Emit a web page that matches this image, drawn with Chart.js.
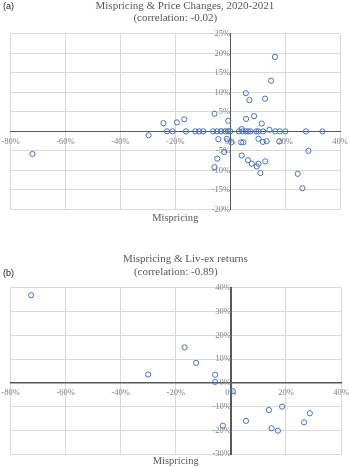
<!DOCTYPE html>
<html>
<head>
<meta charset="utf-8">
<script src="https://cdn.jsdelivr.net/npm/chart.js@4.4.1/dist/chart.umd.min.js"></script>
<style>
    body { margin: 0; background: #ffffff; }
    #wrap { position: relative; width: 350px; height: 468px; overflow: hidden; }
    canvas { position: absolute; left: 0; }
    .panel { position: absolute; left: 3px; font-family: 'Liberation Sans', Arial, sans-serif; font-size: 9px; color: #222; }
</style>
</head>
<body>
<div id="wrap">
    <canvas id="chartA" width="350" height="230" style="top:0px"></canvas>
    <canvas id="chartB" width="350" height="228" style="top:240px"></canvas>
    <div class="panel" style="top:1px">(a)</div>
    <div class="panel" style="top:268px">(b)</div>
</div>
<script>
// Panel (a): mispricing vs price changes 2020-2021 (values in %)
const aMispricing = [
    -72, -29.7, -24.3, -19.4, -16.7, -5.7, -0.7, 5.8, 8.7, 11.5, 14.3,
    16.3, 14.9, 5.7, 7.0, 12.7, 4.2,
    -23, -21, -16.1, -12.7, -11.3, -9.8, -6.2, -4.8, -3.3, -1.7, -0.7, 0,
    3.2, 4.5, 5.6, 6.5, 7.4, 9.5, 10.3, 12, 16.4, 18.1, 20.1, 27.6, 33.6,
    -4.3, -1.2, 0.4, 4.0, 4.8, 10.3, 11.9, 13.3, 17.9,
    -2.2, -4.7, -5.7, 4.2, 6.5, 7.9, 9.7, 10.3, 12.8, 11.0, 24.6, 26.3, 28.5
];
const aPriceChange = [
    -5.8, -1.0, 2.1, 2.3, 3.1, 4.5, 2.7, 3.2, 3.9, 2.0, 0.4,
    19.1, 13.0, 9.8, 8.0, 8.4, 0.6,
    0, 0, 0, 0, 0, 0, 0, 0, 0, 0, 0, 0,
    0, 0, 0, 0, 0, 0, 0, 0, 0, 0, 0, 0, 0,
    -2.0, -1.9, -2.8, -2.8, -2.8, -1.9, -2.7, -2.5, -2.6,
    -5.3, -7.0, -9.2, -6.2, -7.4, -8.3, -9.0, -8.3, -7.7, -10.7, -10.9, -14.6, -5.0
];

// Panel (b): mispricing vs Liv-ex returns (values in %)
const bMispricing = [-72.5, -16.8, -12.6, -30, -5.7, -5.7, 0.7, -2.9, 5.5, 13.8, 18.6, 14.8, 17.1, 26.6, 28.7];
const bLivexReturn = [36.8, 14.9, 8.4, 3.5, 3.4, 0.4, -3.5, -18.0, -16.0, -11.4, -10.0, -19.1, -20.1, -16.6, -12.8];

const SERIF = "'Liberation Serif', 'Times New Roman', serif";
const pointBlue = '#4472c4';

// Function to create one scatter panel
function createScatter(canvasId, xs, ys, cfg) {
    const ctx = document.getElementById(canvasId).getContext('2d');
    const points = xs.map((x, i) => ({ x: x, y: ys[i] }));

    return new Chart(ctx, {
        type: 'scatter',
        data: {
            datasets: [{
                data: points,
                pointStyle: 'circle',
                pointRadius: 2.6,
                pointBorderWidth: 1,
                borderColor: pointBlue,
                backgroundColor: 'rgba(0,0,0,0)'
            }]
        },
        options: {
            responsive: false,
            animation: false,
            devicePixelRatio: 1,
            layout: { padding: cfg.padding },
            plugins: {
                legend: { display: false },
                tooltip: { enabled: false },
                // Title (two lines)
                title: {
                    display: true,
                    text: cfg.title,
                    color: '#595959',
                    font: { family: SERIF, size: 11, weight: 'normal', lineHeight: cfg.titleLine },
                    padding: cfg.titlePad
                },
                // x axis name sits at the bottom, axis itself crosses at 0
                subtitle: {
                    display: true,
                    position: 'bottom',
                    text: 'Mispricing',
                    color: '#595959',
                    font: { family: SERIF, size: 10.5, lineHeight: 1.2 },
                    padding: cfg.subPad
                }
            },
            scales: {
                x: {
                    type: 'linear',
                    position: { y: 0 },
                    min: -80, max: 40,
                    grid: { color: '#d9d9d9', drawTicks: false },
                    border: { display: true, color: '#595959', width: cfg.xBorder },
                    ticks: {
                        stepSize: 20,
                        padding: 0, // tall line height pushes labels below the axis instead
                        color: '#808080',
                        font: { family: SERIF, size: 8.5, lineHeight: 2.42 },
                        callback: v => v + '%'
                    }
                },
                y: {
                    type: 'linear',
                    position: { x: 0 },
                    min: cfg.yMin, max: cfg.yMax,
                    grid: { color: '#d9d9d9', drawTicks: false },
                    border: { display: true, color: '#595959', width: cfg.yBorder },
                    ticks: {
                        stepSize: cfg.yStep,
                        padding: 6,
                        color: '#808080',
                        font: { family: SERIF, size: 8.5 },
                        callback: v => v + '%'
                    }
                }
            }
        }
    });
}

createScatter('chartA', aMispricing, aPriceChange, {
    title: ['       Mispricing & Price Changes, 2020-2021', '(correlation: -0.02)'],
    titleLine: 1.07,
    titlePad: { top: 0.3, bottom: 10.1 },
    subPad: { top: 2.7, bottom: 0 },
    padding: { top: 0, left: 10.5, right: 10, bottom: 5.4 },
    yMin: -20, yMax: 25, yStep: 5,
    xBorder: 1, yBorder: 1
});

createScatter('chartB', bMispricing, bLivexReturn, {
    title: ['       Mispricing & Liv-ex returns', '(correlation: -0.89)'],
    titleLine: 1.227,
    titlePad: { top: 12.25, bottom: 8.45 },
    subPad: { top: 1.2, bottom: 0 },
    padding: { top: 0, left: 10.5, right: 9, bottom: 0 },
    yMin: -30, yMax: 40, yStep: 10,
    xBorder: 1.5, yBorder: 2
});
</script>
</body>
</html>
